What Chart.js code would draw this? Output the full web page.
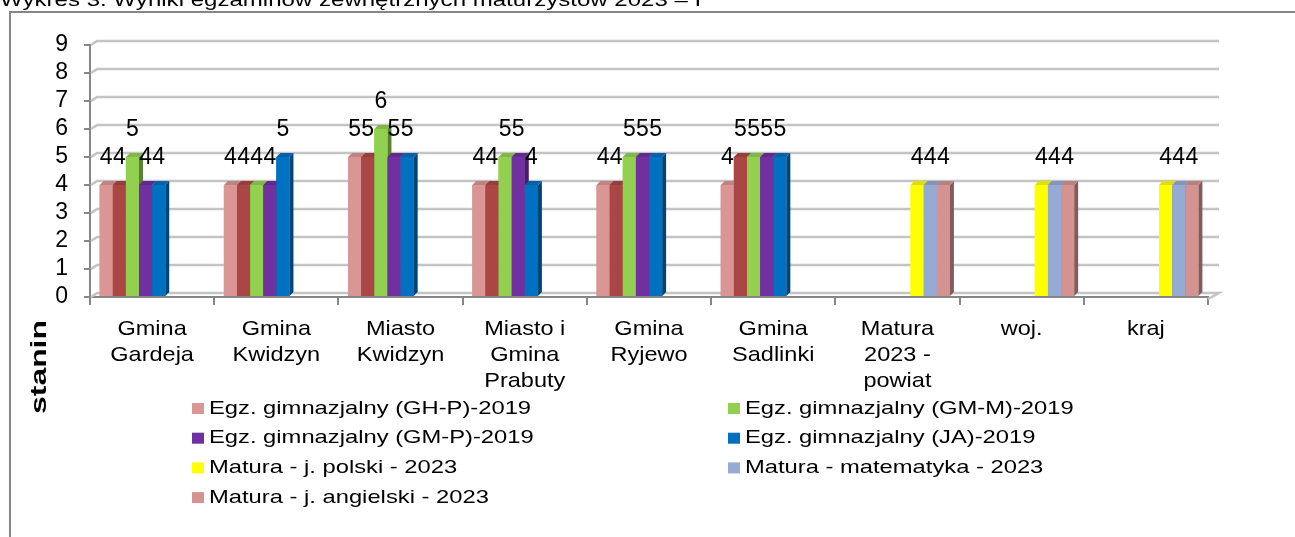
<!DOCTYPE html>
<html>
<head>
<meta charset="utf-8">
<script src="https://cdn.jsdelivr.net/npm/chart.js"></script>
<style>
  html, body { margin: 0; padding: 0; background: #fff; }
  canvas { display: block; }
</style>
</head>
<body>
<canvas id="wykres" width="1295" height="537"></canvas>
<script>
// Wykres 3 - stanin results by commune

const categories = [
    ['Gmina', 'Gardeja'],
    ['Gmina', 'Kwidzyn'],
    ['Miasto', 'Kwidzyn'],
    ['Miasto i', 'Gmina', 'Prabuty'],
    ['Gmina', 'Ryjewo'],
    ['Gmina', 'Sadlinki'],
    ['Matura', '2023 -', 'powiat'],
    ['woj.'],
    ['kraj']
];

const seriesLabels = [
    'Egz. gimnazjalny (GH-P)-2019',
    '',
    'Egz. gimnazjalny (GM-M)-2019',
    'Egz. gimnazjalny (GM-P)-2019',
    'Egz. gimnazjalny (JA)-2019',
    'Matura - j. polski - 2023',
    'Matura - matematyka - 2023',
    'Matura - j. angielski - 2023'
];

const seriesColors = ['#D99694', '#AA4643', '#92D050', '#7030A0', '#0070C0', '#FFFF00', '#95ABD3', '#D49391'];

const ghp2019 = [4, 4, 5, 4, 4, 4, null, null, null];
const ghh2019 = [4, 4, 5, 4, 4, 5, null, null, null];
const gmm2019 = [5, 4, 6, 5, 5, 5, null, null, null];
const gmp2019 = [4, 4, 5, 5, 5, 5, null, null, null];
const ja2019 = [4, 5, 5, 4, 5, 5, null, null, null];
const maturaPolski = [null, null, null, null, null, null, 4, 4, 4];
const maturaMatematyka = [null, null, null, null, null, null, 4, 4, 4];
const maturaAngielski = [null, null, null, null, null, null, 4, 4, 4];

const seriesData = [ghp2019, ghh2019, gmm2019, gmp2019, ja2019, maturaPolski, maturaMatematyka, maturaAngielski];

const yTicks = [0, 1, 2, 3, 4, 5, 6, 7, 8, 9];

const FONT = "'Liberation Sans', Arial, sans-serif";
const AXIS = '#868686';

function shade(hex, f) {
    const n = parseInt(hex.slice(1), 16);
    const r = Math.round(((n >> 16) & 255) * f);
    const g = Math.round(((n >> 8) & 255) * f);
    const b = Math.round((n & 255) * f);
    return `rgb(${r},${g},${b})`;
}

// frame, title, axis title, back wall grid
const framePlugin = {
    id: 'frame',
    beforeDraw(chart) {
        const ctx = chart.ctx;
        ctx.save();
        ctx.fillStyle = '#fff';
        ctx.fillRect(0, 0, chart.width, chart.height);
        ctx.strokeStyle = AXIS;
        ctx.lineWidth = 2;
        ctx.beginPath();
        ctx.moveTo(10, chart.height);
        ctx.lineTo(10, 12);
        ctx.lineTo(chart.width, 12);
        ctx.stroke();

        ctx.fillStyle = '#000';
        ctx.font = `18.5px ${FONT}`;
        ctx.textBaseline = 'alphabetic';
        ctx.translate(0, 6);
        ctx.scale(1.3, 1);
        ctx.fillText('Wykres 3. Wyniki egzaminów zewnętrznych maturzystów 2023 – I', 0, 0);
        ctx.restore();

        ctx.save();
        ctx.translate(40, 367);
        ctx.rotate(-Math.PI / 2);
        ctx.scale(1.45, 1);
        ctx.font = `bold 22px ${FONT}`;
        ctx.fillStyle = '#000';
        ctx.textAlign = 'center';
        ctx.textBaseline = 'middle';
        ctx.fillText('stanin', 0, 0);
        ctx.restore();
    },
    beforeDatasetsDraw(chart) {
        const {ctx, chartArea, scales} = chart;
        const dx = 7, dy = -4;
        ctx.save();
        ctx.strokeStyle = '#c4c4c4';
        ctx.lineWidth = 2.5;
        yTicks.forEach(v => {
            const y = scales.y.getPixelForValue(v);
            ctx.beginPath();
            ctx.moveTo(chartArea.left + 1, y);
            ctx.lineTo(chartArea.left + dx, y + dy);
            ctx.lineTo(chartArea.right + dx + 4, y + dy);
            if (v === 0) ctx.lineTo(chartArea.right, y + 2);
            ctx.stroke();
        });
        ctx.restore();

        // category labels, slightly wide like the original
        const xs = scales.x;
        ctx.save();
        ctx.fillStyle = '#000';
        ctx.font = `21px ${FONT}`;
        ctx.textAlign = 'center';
        ctx.textBaseline = 'middle';
        categories.forEach((lines, i) => {
            const cx = xs.getPixelForTick(i);
            lines.forEach((line, k) => {
                ctx.save();
                ctx.translate(cx, 329 + k * 26);
                ctx.scale(1.12, 1);
                ctx.fillText(line, 0, 0);
                ctx.restore();
            });
        });
        ctx.restore();
    }
};

// 3d look for bars + value labels + legend
const barsPlugin = {
    id: 'bars3d',
    afterDatasetsDraw(chart) {
        const ctx = chart.ctx;
        const d = 4;
        ctx.save();
        seriesData.forEach((values, i) => {
            const meta = chart.getDatasetMeta(i);
            const col = seriesColors[i];
            meta.data.forEach((bar, j) => {
                if (values[j] == null) return;
                const {x, y, base, width} = bar.getProps(['x', 'y', 'base', 'width'], true);
                const l = x - width / 2, r = x + width / 2;
                ctx.fillStyle = shade(col, 0.62);
                ctx.beginPath();
                ctx.moveTo(r, y);
                ctx.lineTo(r + d, y - d);
                ctx.lineTo(r + d, base - d);
                ctx.lineTo(r, base);
                ctx.closePath();
                ctx.fill();
                ctx.fillStyle = shade(col, 0.88);
                ctx.beginPath();
                ctx.moveTo(l, y);
                ctx.lineTo(l + d, y - d);
                ctx.lineTo(r + d, y - d);
                ctx.lineTo(r, y);
                ctx.closePath();
                ctx.fill();
                ctx.fillStyle = col;
                ctx.fillRect(l, y, width, base - y);
            });
        });

        ctx.fillStyle = '#000';
        ctx.font = `23px ${FONT}`;
        ctx.textAlign = 'center';
        ctx.textBaseline = 'middle';
        seriesData.forEach((values, i) => {
            chart.getDatasetMeta(i).data.forEach((bar, j) => {
                if (values[j] == null) return;
                ctx.fillText(String(values[j]), bar.x, bar.y - 27);
            });
        });
        ctx.restore();
    },
    afterDraw(chart) {
        const ctx = chart.ctx;
        const items = seriesLabels.map((label, i) => ({label, color: seriesColors[i]})).filter(it => it.label !== '');
        const colX = [192, 728];
        ctx.save();
        ctx.font = `19px ${FONT}`;
        ctx.textBaseline = 'middle';
        items.forEach((it, k) => {
            const cx = colX[k % 2];
            const cy = 408.5 + Math.floor(k / 2) * 29.7;
            ctx.fillStyle = it.color;
            ctx.fillRect(cx, cy - 5.5, 12, 11);
            ctx.save();
            ctx.translate(cx + 17, cy);
            ctx.scale(1.25, 1);
            ctx.fillStyle = '#000';
            ctx.fillText(it.label, 0, 0);
            ctx.restore();
        });
        ctx.restore();
    }
};

const ctx = document.getElementById('wykres').getContext('2d');
new Chart(ctx, {
    type: 'bar',
    data: {
        labels: categories,
        datasets: seriesData.map((values, i) => ({
            label: seriesLabels[i],
            data: values,
            backgroundColor: seriesColors[i],
            borderWidth: 0,
            categoryPercentage: 0.845,
            barPercentage: 1
        }))
    },
    options: {
        responsive: false,
        animation: false,
        devicePixelRatio: 1,
        layout: { padding: { top: 45, right: 87, left: 0, bottom: 0 } },
        plugins: {
            legend: { display: false },
            tooltip: { enabled: false }
        },
        scales: {
            x: {
                grid: { offset: true, drawOnChartArea: false, tickLength: 8, color: AXIS, lineWidth: 2 },
                border: { color: AXIS, width: 2 },
                ticks: { display: false, autoSkip: false },
                afterFit(scale) { scale.height = 240; }
            },
            y: {
                min: 0,
                max: 9,
                grid: { drawOnChartArea: false, tickLength: 6, color: AXIS, lineWidth: 2 },
                border: { color: AXIS, width: 2 },
                ticks: {
                    stepSize: 1,
                    autoSkip: false,
                    color: '#000',
                    font: { family: FONT, size: 23 },
                    padding: 16
                },
                afterFit(scale) { scale.width = 90; }
            }
        }
    },
    plugins: [framePlugin, barsPlugin]
});
</script>
</body>
</html>
